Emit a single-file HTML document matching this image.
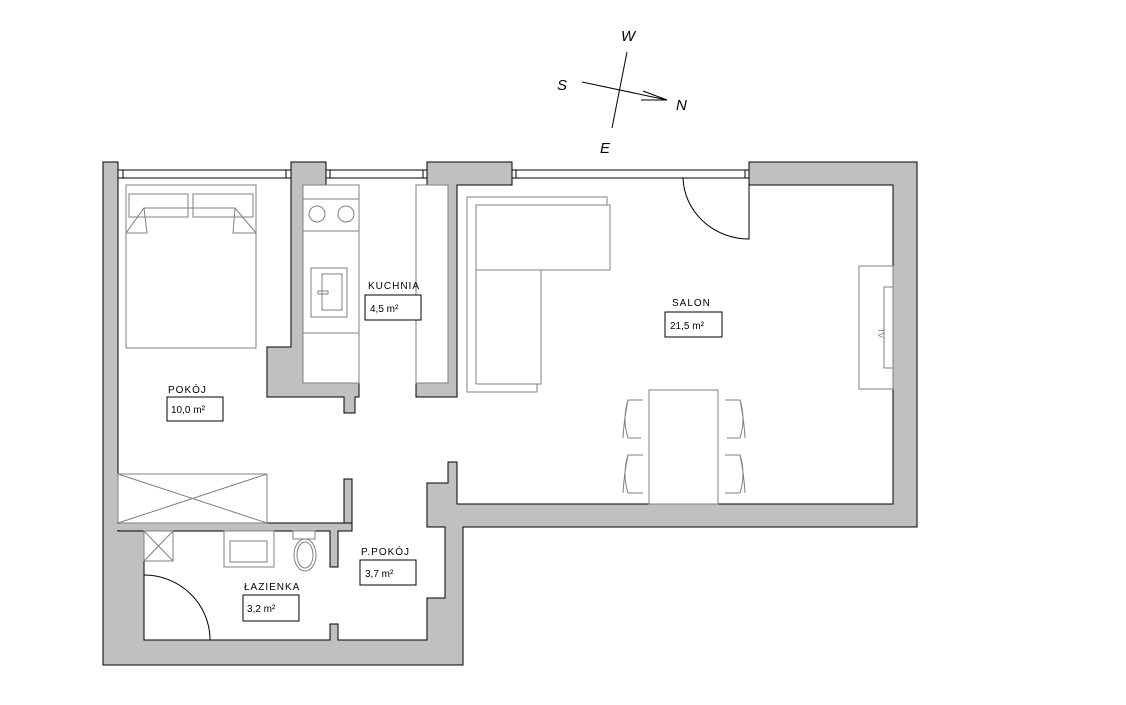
<!DOCTYPE html>
<html><head><meta charset="utf-8"><style>html,body{margin:0;padding:0;background:#fff}svg{display:block}text{font-family:"Liberation Sans",sans-serif}</style></head>
<body>
<svg width="1126" height="705" viewBox="0 0 1126 705" xmlns="http://www.w3.org/2000/svg">
<rect width="1126" height="705" fill="#fff"/>
<!-- compass -->
<g stroke="#000" stroke-width="1" fill="none">
<line x1="582" y1="82" x2="667" y2="100"/>
<line x1="643" y1="91" x2="667" y2="100"/>
<line x1="641" y1="100" x2="667" y2="100"/>
<line x1="627" y1="52" x2="612" y2="128"/>
</g>
<g font-size="15" font-style="italic" fill="#000">
<text x="621" y="41">W</text><text x="557" y="90">S</text><text x="676" y="110">N</text><text x="600" y="153">E</text>
</g>
<!-- windows -->
<g stroke="#000" stroke-width="1" fill="none">
<line x1="118" y1="170" x2="291" y2="170"/><line x1="118" y1="178" x2="291" y2="178"/>
<line x1="123" y1="170" x2="123" y2="178"/><line x1="286" y1="170" x2="286" y2="178"/>
<line x1="326" y1="170" x2="427" y2="170"/><line x1="326" y1="178" x2="427" y2="178"/>
<line x1="330" y1="170" x2="330" y2="178"/><line x1="423" y1="170" x2="423" y2="178"/>
<line x1="512" y1="170" x2="749" y2="170"/><line x1="512" y1="178" x2="749" y2="178"/>
<line x1="516" y1="170" x2="516" y2="178"/><line x1="745" y1="170" x2="745" y2="178"/>
</g>
<!-- walls -->
<g fill="#c0c0c0" stroke="#000" stroke-width="1">
<polygon points="103,162 118,162 118,185 118,523 144,531 144,640 330,640 330,624 338,624 338,640 427,640 427,598 445,598 445,527 427,527 427,483 448,483 448,462 457,462 457,504 893,504 893,185 749,185 749,162 917,162 917,527 463,527 463,665 103,665"/>
<polygon points="118,523 352,523 352,479 344,479 344,523 118,523 118,531 330,531 330,567 338,567 338,531 352,531 352,523"/>
<polygon points="291,162 326,162 326,185 303,185 303,383 359,383 359,397 355,397 355,413 344,413 344,397 267,397 267,347 291,347"/>
<polygon points="427,162 512,162 512,185 457,185 457,397 416,397 416,383 448,383 448,185 427,185"/>
</g>
<rect x="104" y="524" width="40" height="6" fill="#c0c0c0"/>
<line x1="118" y1="185" x2="118" y2="523" stroke="#000"/>
<line x1="118" y1="531" x2="144" y2="531" stroke="#000"/>
<!-- furniture -->
<g fill="none" stroke="#808080" stroke-width="1">
<rect x="126" y="185" width="130" height="163"/>
<rect x="129" y="194" width="59" height="23"/><rect x="193" y="194" width="60" height="23"/>
<path d="M126,233 L144,208 H235 L256,233"/><path d="M144,208 L147,233 H126 M235,208 L233,233 H256"/>
<rect x="303" y="185" width="56" height="198"/>
<line x1="303" y1="199" x2="359" y2="199"/><line x1="303" y1="231" x2="359" y2="231"/><line x1="303" y1="333" x2="359" y2="333"/>
<circle cx="317" cy="214" r="8"/><circle cx="346" cy="214" r="8"/>
<rect x="311" y="268" width="36" height="49"/><rect x="322" y="274" width="20" height="36"/><rect x="318" y="291" width="10" height="3"/>
<rect x="416" y="185" width="32" height="198"/>
<path d="M607,205 V197 H467 V392 H537 V384"/>
<rect x="476" y="205" width="134" height="65"/><path d="M476,270 V384 H541 V270"/>
<rect x="649" y="390" width="69" height="114"/>
<path d="M643,400 H628 Q622,419 628,438 H641 M628,400 Q624,419 623,438"/>
<path d="M643,455 H628 Q622,474 628,493 H643 M628,455 Q624,474 623,493"/>
<path d="M725,400 H740 Q746,419 740,438 H727 M740,400 Q744,419 745,438"/>
<path d="M725,455 H740 Q746,474 740,493 H725 M740,455 Q744,474 745,493"/>
<rect x="859" y="266" width="34" height="123"/><rect x="884" y="287" width="9" height="81"/>
<rect x="118" y="474" width="149" height="49"/><path d="M118,474 L267,523 M267,474 L118,523"/>
<rect x="144" y="531" width="29" height="30"/><path d="M144,531 L173,561 M173,531 L144,561"/>
<rect x="224" y="531" width="50" height="36"/><rect x="230" y="541" width="37" height="21"/>
<rect x="293" y="531" width="22" height="8"/><ellipse cx="305" cy="555" rx="11" ry="16"/><ellipse cx="305" cy="555" rx="8" ry="13"/>
</g>
<text x="878" y="333" font-size="8" fill="#808080" transform="rotate(90 878 333)" text-anchor="middle">TV</text>
<!-- doors -->
<g fill="none" stroke="#000" stroke-width="1">
<path d="M683,178 A66,63 0 0 0 749,239 V185"/>
<path d="M144,575 A66,65 0 0 1 210,640"/>
</g>
<!-- labels -->
<g font-size="10" fill="#000" letter-spacing="1">
<text x="168" y="393">POKÓJ</text><text x="368" y="289">KUCHNIA</text><text x="672" y="306">SALON</text>
<text x="244" y="590">ŁAZIENKA</text><text x="361" y="555">P.POKÓJ</text>
</g>
<g fill="#fff" stroke="#000" stroke-width="1">
<rect x="167" y="397" width="56" height="24"/><rect x="365" y="295" width="56" height="25"/><rect x="665" y="312" width="57" height="25"/>
<rect x="243" y="595" width="56" height="26"/><rect x="360" y="560" width="56" height="25"/>
</g>
<g font-size="10" fill="#000">
<text x="171" y="413">10,0 m²</text><text x="370" y="312">4,5 m²</text><text x="670" y="329">21,5 m²</text>
<text x="247" y="612">3,2 m²</text><text x="365" y="577">3,7 m²</text>
</g>
</svg>
</body></html>
